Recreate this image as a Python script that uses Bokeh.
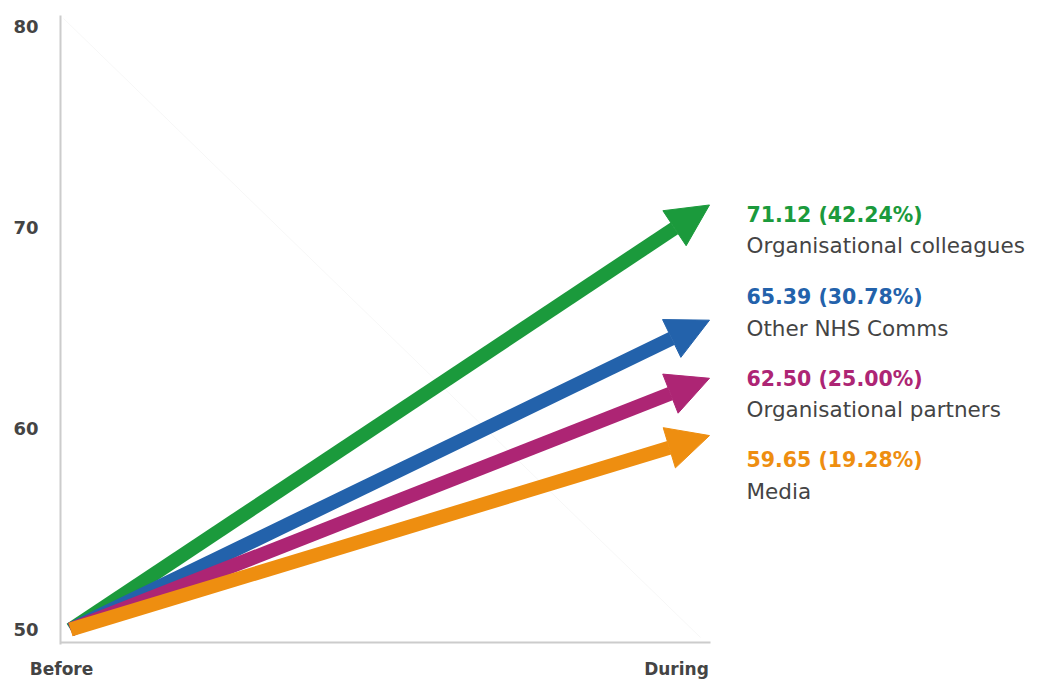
from bokeh.plotting import figure
from bokeh.models import Arrow, NormalHead, FixedTicker, Range1d, ColumnDataSource
from bokeh.core.properties import value
from bokeh.embed import file_html
from bokeh.resources import INLINE

# ---- data ----
categories = ["Organisational colleagues", "Other NHS Comms", "Organisational partners", "Media"]
before_vals = [50, 50, 50, 50]
during_vals = [71.12, 65.39, 62.50, 59.65]
pct_change = [42.24, 30.78, 25.00, 19.28]
colors = ["#1b9a3c", "#2362ab", "#ad2574", "#ee8e10"]
period_labels = ["Before", "During"]
y_ticks = [50, 60, 70, 80]

# ---- layout constants (figure pixels) ----
W, H = 1027, 681
FRAME_L, FRAME_R, FRAME_T, FRAME_B = 60, 1027, 15, 647
X0_PX, X1_PX = 70, 709          # where "Before" (x=0) and "During" (x=1) sit
Y50_PX, PX_PER_UNIT = 632, 20.2

def px_to_x(px):
    return (px - X0_PX) / (X1_PX - X0_PX)

def py_to_y(py):
    return 50 + (Y50_PX - py) / PX_PER_UNIT

x_start, x_end = px_to_x(FRAME_L), px_to_x(FRAME_R)
y_start, y_end = py_to_y(FRAME_B), py_to_y(FRAME_T)

p = figure(width=W, height=H, output_backend="svg", toolbar_location=None,
           x_range=Range1d(x_start, x_end), y_range=Range1d(y_start, y_end),
           min_border_left=FRAME_L, min_border_right=W - FRAME_R,
           min_border_top=FRAME_T, min_border_bottom=H - FRAME_B)
p.outline_line_color = None
p.xgrid.grid_line_color = None
p.ygrid.grid_line_color = None
p.background_fill_color = "white"
p.border_fill_color = "white"

# y axis
p.yaxis.ticker = FixedTicker(ticks=y_ticks)
p.yaxis.axis_line_color = "#cccccc"
p.yaxis.axis_line_width = 2
p.yaxis.major_tick_line_color = None
p.yaxis.minor_tick_line_color = None
p.yaxis.major_tick_out = 0
p.yaxis.major_tick_in = 0
p.yaxis.major_label_standoff = 22
p.yaxis.major_label_text_font = "DejaVu Sans"
p.yaxis.major_label_text_font_style = "bold"
p.yaxis.major_label_text_font_size = "18px"
p.yaxis.major_label_text_color = "#444444"

# x axis: only the two period labels
lab_pos = [px_to_x(61), px_to_x(676)]
p.xaxis.ticker = FixedTicker(ticks=lab_pos)
p.xaxis.major_label_overrides = {lab_pos[0]: period_labels[0], lab_pos[1]: period_labels[1]}
p.xaxis.axis_line_color = None
p.xaxis.major_tick_line_color = None
p.xaxis.minor_tick_line_color = None
p.xaxis.major_tick_out = 0
p.xaxis.major_tick_in = 0
p.xaxis.major_label_standoff = 14
p.xaxis.major_label_text_font = "DejaVu Sans"
p.xaxis.major_label_text_font_style = "bold"
p.xaxis.major_label_text_font_size = "17px"
p.xaxis.major_label_text_color = "#444444"

# faint diagonal decoration
p.segment(x0=[px_to_x(63)], y0=[py_to_y(18)], x1=[px_to_x(700)], y1=[py_to_y(640)],
          line_color="#f7f7f7", line_width=1)

# bottom axis line (only up to "During")
axis_y = py_to_y(645)
p.segment(x0=[x_start], y0=[axis_y], x1=[px_to_x(710)], y1=[axis_y],
          line_color="#cccccc", line_width=2)

# arrows, drawn green first so orange lies on top at the origin
for b, d, c in zip(before_vals, during_vals, colors):
    head = NormalHead(size=42, fill_color=c, line_color=c, line_width=1)
    p.add_layout(Arrow(end=head, x_start=0, y_start=b, x_end=1, y_end=d,
                       line_color=c, line_width=14))

# right-hand labels
label_x = px_to_x(746)
row_top = [215, 298, 380, 462]
val_src = ColumnDataSource(dict(
    x=[label_x] * len(categories),
    y=[py_to_y(t) for t in row_top],
    text=[f"{d:.2f} ({pc:.2f}%)" for d, pc in zip(during_vals, pct_change)],
    color=colors))
name_src = ColumnDataSource(dict(
    x=[label_x] * len(categories),
    y=[py_to_y(t + 31) for t in row_top],
    text=categories))
p.text(x="x", y="y", text="text", source=val_src, text_color="color",
       text_font=value("DejaVu Sans"), text_font_style="bold",
       text_font_size="20.5px", text_baseline="middle", text_align="left")
p.text(x="x", y="y", text="text", source=name_src, text_color="#444444",
       text_font=value("DejaVu Sans"), text_font_size="21.5px",
       text_baseline="middle", text_align="left")

open("out.html", "w").write(file_html(p, INLINE))
